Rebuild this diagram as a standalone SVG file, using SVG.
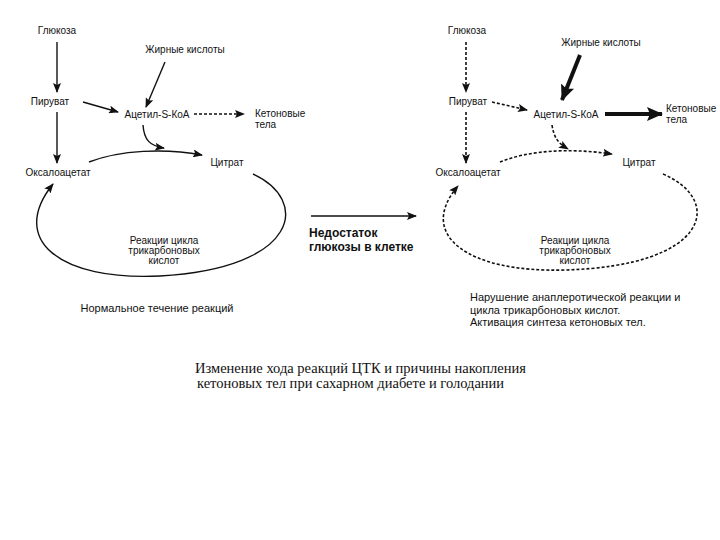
<svg xmlns="http://www.w3.org/2000/svg" width="720" height="540" viewBox="0 0 720 540">
<defs>
<style>
.t{font-family:"Liberation Sans",Arial,sans-serif;font-size:10px;fill:#111}
.s{font-family:"Liberation Sans",Arial,sans-serif;font-size:11px;fill:#111}
.b{font-family:"Liberation Sans",Arial,sans-serif;font-size:12px;font-weight:bold;fill:#111}
.c{font-family:"Liberation Serif","Times New Roman",serif;font-size:14.5px;fill:#111}
.ln{fill:none;stroke:#111;stroke-width:1.4}
.dt{fill:none;stroke:#111;stroke-width:1.6;stroke-dasharray:3 2}
.th{fill:none;stroke:#111;stroke-width:4}
</style>
<marker id="ah" markerUnits="userSpaceOnUse" markerWidth="10" markerHeight="8" refX="9" refY="4" orient="auto">
<path d="M0,0 L10,4 L0,8 L2,4 z" fill="#111"/>
</marker>
<marker id="ahb" markerUnits="userSpaceOnUse" markerWidth="16" markerHeight="14" refX="15" refY="7" orient="auto">
<path d="M0,0 L16,7 L0,14 L3,7 z" fill="#111"/>
</marker>
</defs>
<rect width="720" height="540" fill="#fff"/>

<g id="connectors">
<!-- left -->
<path class="ln" d="M57,42 L57,92" marker-end="url(#ah)"/>
<path class="ln" d="M83,102 L118,112" marker-end="url(#ah)"/>
<path class="ln" d="M165,62 L146,107" marker-end="url(#ah)"/>
<path class="ln" d="M194,114 L244,114" stroke-dasharray="3 2" marker-end="url(#ah)"/>
<path class="ln" d="M143,125 C144,140 150,146 164,148" marker-end="url(#ah)"/>
<path class="ln" d="M57,112 L57,163" marker-end="url(#ah)"/>
<path class="ln" d="M89,162 C120,150 165,148 202,155" marker-end="url(#ah)"/>
<path class="ln" d="M253,174 C310,200 300,268 160,276 C60,281 8,240 53,184" marker-end="url(#ah)"/>
<!-- middle -->
<path class="ln" d="M311,216 L416,216" stroke-width="1.8" marker-end="url(#ah)"/>
<!-- right -->
<path class="dt" d="M466,42 L466,92" marker-end="url(#ah)"/>
<path class="dt" d="M492,102 L527,110" marker-end="url(#ah)"/>
<path class="th" d="M580,55 L562,100" marker-end="url(#ahb)"/>
<path class="th" d="M605,114 L662,114" marker-end="url(#ahb)"/>
<path class="dt" d="M552,125 C554,138 558,143 568,149" marker-end="url(#ah)"/>
<path class="dt" d="M466,112 L466,163" marker-end="url(#ah)"/>
<path class="dt" d="M500,162 C530,150 570,148 612,154" marker-end="url(#ah)"/>
<path class="dt" d="M663,174 C724,200 710,266 565,270 C468,273 416,235 458,186" marker-end="url(#ah)"/>
</g>

<g id="n-glucose-l"><text class="t" x="57" y="34" text-anchor="middle">Глюкоза</text></g>
<g id="n-fatty-l"><text class="t" x="185" y="53" text-anchor="middle">Жирные кислоты</text></g>
<g id="n-pyruvate-l"><text class="t" x="50" y="105" text-anchor="middle">Пируват</text></g>
<g id="n-acetyl-l"><text class="t" x="157" y="118" text-anchor="middle">Ацетил-S-КоА</text></g>
<g id="n-ketone-l"><text class="t" x="255" y="117">Кетоновые</text><text class="t" x="255" y="128">тела</text></g>
<g id="n-citrate-l"><text class="t" x="227" y="166" text-anchor="middle">Цитрат</text></g>
<g id="n-oxalo-l"><text class="t" x="58" y="176" text-anchor="middle">Оксалоацетат</text></g>
<g id="n-cycle-l"><text class="t" x="164" y="244" text-anchor="middle">Реакции цикла</text><text class="t" x="164" y="254" text-anchor="middle">трикарбоновых</text><text class="t" x="164" y="264" text-anchor="middle">кислот</text></g>
<g id="n-normal"><text class="s" x="157" y="312" text-anchor="middle">Нормальное течение реакций</text></g>

<g id="n-lack"><text class="b" x="309" y="237">Недостаток</text><text class="b" x="309" y="251">глюкозы в клетке</text></g>

<g id="n-glucose-r"><text class="t" x="467" y="34" text-anchor="middle">Глюкоза</text></g>
<g id="n-fatty-r"><text class="t" x="601" y="46" text-anchor="middle">Жирные кислоты</text></g>
<g id="n-pyruvate-r"><text class="t" x="468" y="105" text-anchor="middle">Пируват</text></g>
<g id="n-acetyl-r"><text class="t" x="566" y="118" text-anchor="middle">Ацетил-S-КоА</text></g>
<g id="n-ketone-r"><text class="t" x="666" y="112">Кетоновые</text><text class="t" x="666" y="123">тела</text></g>
<g id="n-citrate-r"><text class="t" x="639" y="166" text-anchor="middle">Цитрат</text></g>
<g id="n-oxalo-r"><text class="t" x="468" y="176" text-anchor="middle">Оксалоацетат</text></g>
<g id="n-cycle-r"><text class="t" x="575" y="244" text-anchor="middle">Реакции цикла</text><text class="t" x="575" y="254" text-anchor="middle">трикарбоновых</text><text class="t" x="575" y="264" text-anchor="middle">кислот</text></g>
<g id="n-disorder"><text class="s" x="470" y="301">Нарушение анаплеротической реакции и</text><text class="s" x="470" y="314">цикла трикарбоновых кислот.</text><text class="s" x="470" y="326">Активация синтеза кетоновых тел.</text></g>

<g id="caption"><text class="c" x="195" y="373">Изменение хода реакций ЦТК и причины накопления</text><text class="c" x="197" y="388">кетоновых тел при сахарном диабете и голодании</text></g>
</svg>
